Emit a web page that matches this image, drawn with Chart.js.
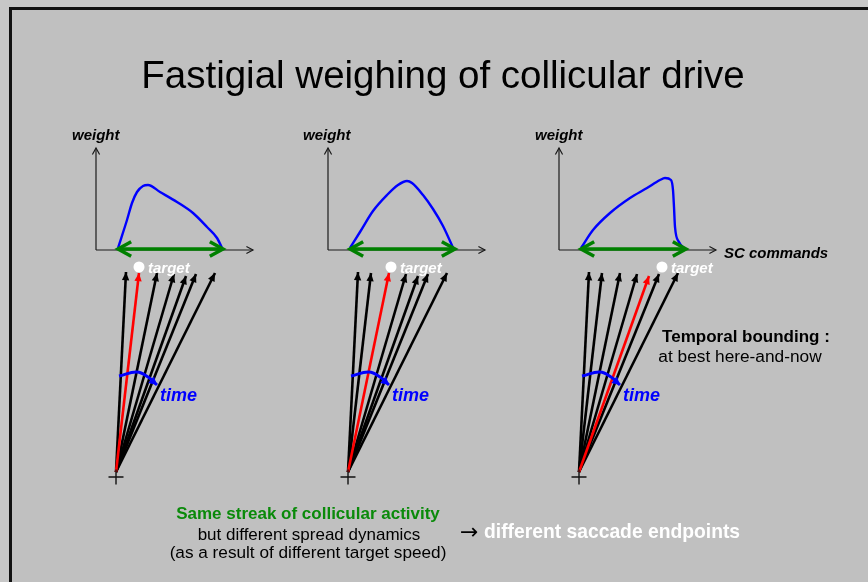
<!DOCTYPE html>
<html>
<head>
<meta charset="utf-8">
<script src="https://cdn.jsdelivr.net/npm/chart.js@4.4.1/dist/chart.umd.min.js"></script>
<style>
  html, body { margin: 0; padding: 0; width: 868px; height: 582px; overflow: hidden; background: #c7c7c7; font-family: "Liberation Sans", Arial, sans-serif; }
  #frame { position: absolute; left: 9px; top: 7px; width: 880px; height: 600px; border-left: 3px solid #111; border-top: 3px solid #111; background: #c0c0c0; }
  #wrap { position: absolute; left: 0; top: 0; width: 868px; height: 582px; }
  .t { position: absolute; white-space: nowrap; line-height: 1; transform: translateY(-50%); color: #000; }
  .c { transform: translate(-50%, -50%); }
  .bi { font-weight: bold; font-style: italic; }
  .b { font-weight: bold; }
</style>
</head>
<body>
<div id="frame"></div>
<div id="wrap"><canvas id="chart" width="868" height="582"></canvas></div>

<div class="t c" style="left:443px;top:75px;font-size:38.5px;">Fastigial weighing of collicular drive</div>

<div class="t bi" style="left:72px;top:134px;font-size:15px;">weight</div>
<div class="t bi" style="left:303px;top:134px;font-size:15px;">weight</div>
<div class="t bi" style="left:535px;top:134px;font-size:15px;">weight</div>
<div class="t bi" style="left:724px;top:252px;font-size:15px;">SC commands</div>

<div class="t bi" style="left:148px;top:267px;font-size:15px;color:#fff;">target</div>
<div class="t bi" style="left:400px;top:267px;font-size:15px;color:#fff;">target</div>
<div class="t bi" style="left:671px;top:267px;font-size:15px;color:#fff;">target</div>

<div class="t bi" style="left:160px;top:395px;font-size:18px;color:#0000ff;">time</div>
<div class="t bi" style="left:392px;top:395px;font-size:18px;color:#0000ff;">time</div>
<div class="t bi" style="left:623px;top:395px;font-size:18px;color:#0000ff;">time</div>

<div class="t c b" style="left:746px;top:336px;font-size:17px;">Temporal bounding :</div>
<div class="t c" style="left:740px;top:357px;font-size:17.3px;">at best here-and-now</div>

<div class="t c b" style="left:308px;top:513px;font-size:17px;color:#0a8a0a;">Same streak of collicular activity</div>
<div class="t c" style="left:309px;top:534px;font-size:17px;">but different spread dynamics</div>
<div class="t c" style="left:308px;top:553px;font-size:17.2px;">(as a result of different target speed)</div>
<div class="t" style="left:460px;top:532px;font-size:22px;font-family:'DejaVu Sans';">&rarr;</div>
<div class="t b" style="left:484px;top:532px;font-size:19.3px;color:#fff;">different saccade endpoints</div>

<script>
// axis origins of the three panels (canvas units)
const panelOrigin = [[96, 250], [328, 250], [559, 250]];
const axisLenX = 157;
const axisLenY = 102;

// weight profile over SC commands, one per panel
const curveCommand = [
  [22, 31, 36, 41, 47, 52, 64, 81, 97, 111, 121, 127],
  [22, 32, 45, 59, 70, 79, 84, 95, 105, 115, 126],
  [22, 34, 51, 71, 88, 101, 106, 112, 114, 115, 116, 120, 127]
];
const curveWeight = [
  [2, 30, 47, 58, 64, 65, 58, 48, 37, 23, 12, 0],
  [2, 18, 39, 55, 65, 69, 67, 55, 41, 24, 0],
  [2, 20, 37, 52, 62, 70, 72, 70, 60, 43, 23, 8, 0]
];

// streak of collicular activity (same for all panels)
const streakFrom = 22;
const streakTo = 127;

// saccade vectors: command at tip, drop of tip below axis
const commandTips = [30, 43, 61, 78, 90, 100, 119];
const tipDrop = [22, 23, 23, 24, 26, 24, 23];
const redIndex = [1, 2, 4];
const targetCommand = [43, 63, 103];
const targetDrop = 17;
const fanBase = [20, 222];
const crossBase = [20, 227];
const timeArc = [[3, -96], [21, -100], [32, -95], [41, -87]];

const datasets = [];
panelOrigin.forEach(([ox, oy], p) => {
  // axes
  datasets.push({ data: [{ x: ox, y: oy }, { x: ox, y: oy - axisLenY }], showLine: true,
    borderColor: '#1a1a1a', borderWidth: 1.2, head: 'open', headLen: 7.5, headAng: 0.5, order: 7 });
  datasets.push({ data: [{ x: ox, y: oy }, { x: ox + axisLenX, y: oy }], showLine: true,
    borderColor: '#1a1a1a', borderWidth: 1.2, head: 'open', headLen: 7.5, headAng: 0.5, order: 7 });
  // weight curve
  datasets.push({ data: curveCommand[p].map((c, i) => ({ x: ox + c, y: oy - curveWeight[p][i] })), showLine: true,
    borderColor: '#0000ff', borderWidth: 2.4, cubicInterpolationMode: 'monotone', order: 6 });
  // streak double arrow
  datasets.push({ data: [{ x: ox + streakFrom, y: oy - 1 }, { x: ox + streakTo, y: oy - 1 }], showLine: true,
    borderColor: '#008000', borderWidth: 3.5, head: 'open', both: true, headLen: 15, headAng: 0.5, order: 5 });
  // saccade vectors
  const bx = ox + fanBase[0], by = oy + fanBase[1];
  commandTips.forEach((c, i) => {
    const red = redIndex[p] === i;
    datasets.push({ data: [{ x: bx, y: by }, { x: ox + c, y: oy + tipDrop[i] }], showLine: true,
      borderColor: red ? '#ff0000' : '#000000', borderWidth: 2.6, head: 'filled', headLen: 9, headAng: 0.42,
      order: red ? 3 : 4 });
  });
  // time arc
  datasets.push({ data: timeArc.map(([dx, dy]) => ({ x: bx + dx, y: by + dy })), showLine: true,
    borderColor: '#0000ff', borderWidth: 3, tension: 0.4, head: 'filled', headLen: 9, headAng: 0.5, order: 2 });
  // target
  datasets.push({ data: [{ x: ox + targetCommand[p], y: oy + targetDrop }], pointRadius: 5.5,
    pointBackgroundColor: '#ffffff', pointBorderWidth: 0, order: 1 });
  // fixation cross
  datasets.push({ data: [{ x: ox + crossBase[0], y: oy + crossBase[1] }], pointStyle: 'cross', pointRadius: 7.5,
    pointBorderColor: '#111', pointBorderWidth: 1.4, order: 0 });
});

const arrowHeads = {
  id: 'arrowHeads',
  afterDatasetDraw(chart, args) {
    const ds = chart.data.datasets[args.index];
    if (!ds.head) return;
    const pts = args.meta.data;
    const ends = [[pts[pts.length - 2], pts[pts.length - 1]]];
    if (ds.both) ends.push([pts[1], pts[0]]);
    const ctx = chart.ctx;
    ctx.save();
    ends.forEach(([a, b]) => {
      const ang = Math.atan2(b.y - a.y, b.x - a.x);
      const l = ds.headLen, w = ds.headAng;
      const p1 = [b.x - l * Math.cos(ang - w), b.y - l * Math.sin(ang - w)];
      const p2 = [b.x - l * Math.cos(ang + w), b.y - l * Math.sin(ang + w)];
      ctx.beginPath();
      ctx.moveTo(p1[0], p1[1]);
      ctx.lineTo(b.x, b.y);
      ctx.lineTo(p2[0], p2[1]);
      if (ds.head === 'filled') {
        ctx.closePath();
        ctx.fillStyle = ds.borderColor;
        ctx.fill();
      } else {
        ctx.strokeStyle = ds.borderColor;
        ctx.lineWidth = ds.borderWidth;
        ctx.lineJoin = 'miter';
        ctx.stroke();
      }
    });
    ctx.restore();
  }
};

new Chart(document.getElementById('chart'), {
  type: 'scatter',
  data: { datasets },
  options: {
    responsive: false,
    animation: false,
    layout: { padding: 0, autoPadding: false },
    elements: { point: { radius: 0, hoverRadius: 0 } },
    plugins: { legend: { display: false }, tooltip: { enabled: false } },
    scales: {
      x: { type: 'linear', min: 0, max: 868, display: false },
      y: { type: 'linear', min: 0, max: 582, reverse: true, display: false }
    }
  },
  plugins: [arrowHeads]
});
</script>
</body>
</html>
